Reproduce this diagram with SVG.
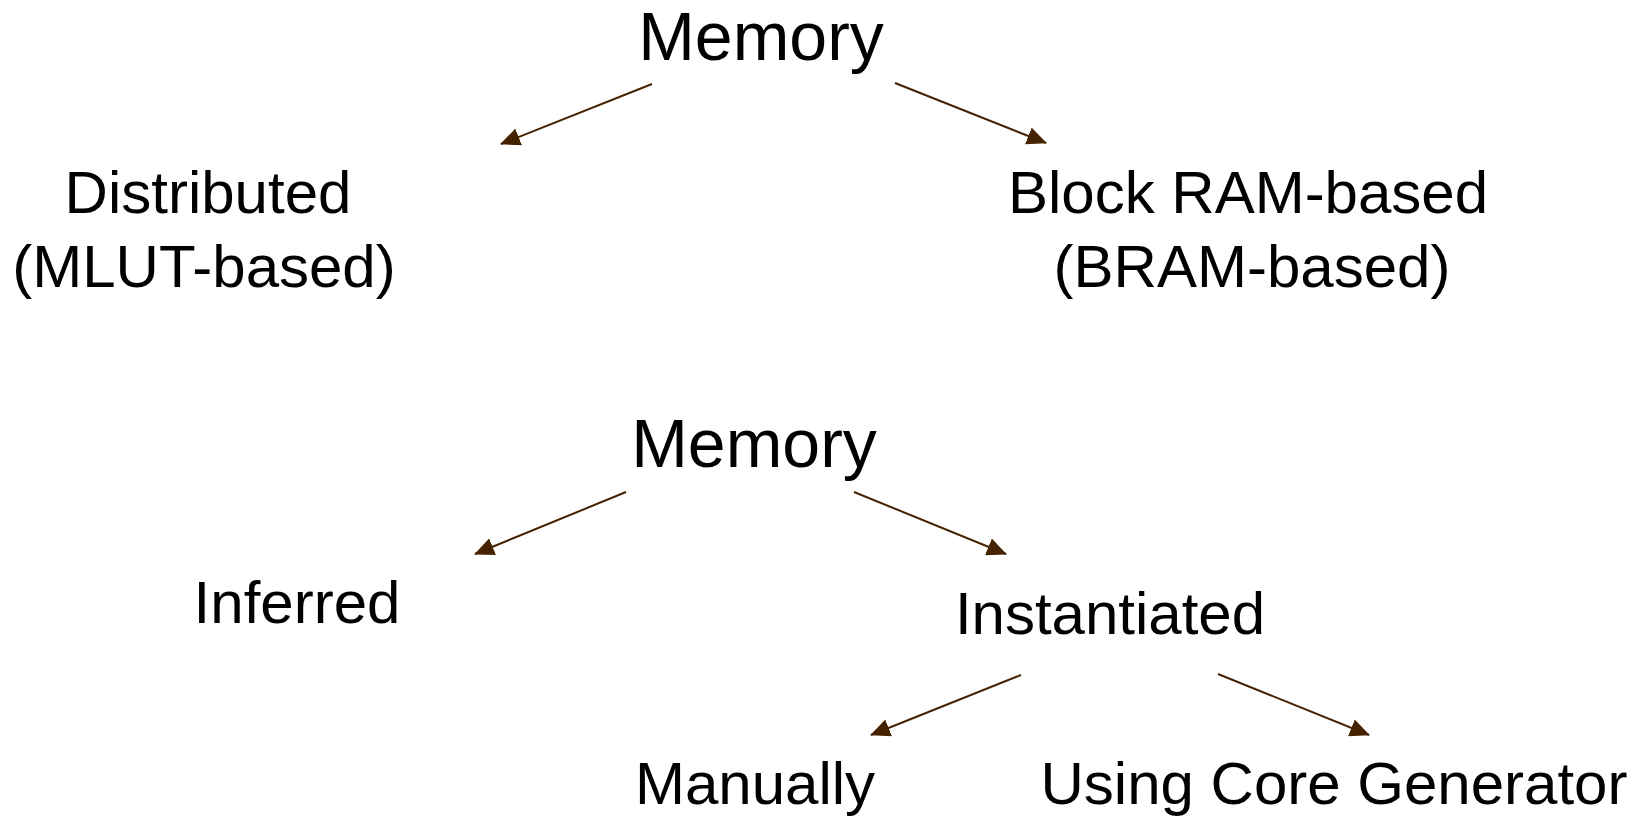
<svg xmlns="http://www.w3.org/2000/svg" width="1648" height="818" viewBox="0 0 1648 818">
  <style>
    .lbl { font-family: "Liberation Sans", Arial, sans-serif; font-size: 60px; fill: #000; text-anchor: middle; }
    .root { font-family: "Liberation Sans", Arial, sans-serif; font-size: 68px; fill: #000; text-anchor: middle; }
    .conn { stroke: #452300; stroke-width: 2; fill: none; marker-end: url(#arrow); }
  </style>
  <defs>
    <marker id="arrow" markerUnits="userSpaceOnUse" markerWidth="20" markerHeight="18" viewBox="0 0 20 18" refX="19" refY="9" orient="auto">
      <path d="M0,0 L20,9 L0,18 z" fill="#452300"/>
    </marker>
  </defs>
  <rect width="1648" height="818" fill="#fff"/>

  <g id="connectors">
    <line class="conn" x1="652" y1="84" x2="501" y2="144"/>
    <line class="conn" x1="895" y1="83" x2="1046" y2="143"/>
    <line class="conn" x1="626" y1="492" x2="475" y2="554"/>
    <line class="conn" x1="854" y1="492" x2="1006" y2="554"/>
    <line class="conn" x1="1021" y1="675" x2="871" y2="735"/>
    <line class="conn" x1="1218" y1="674" x2="1369" y2="735"/>
  </g>

  <g id="memory1"><text class="root" x="761" y="60">Memory</text></g>
  <g id="distributed">
    <text class="lbl" x="208" y="213">Distributed</text>
    <text class="lbl" x="204" y="287">(MLUT-based)</text>
  </g>
  <g id="blockram">
    <text class="lbl" x="1248" y="213">Block RAM-based</text>
    <text class="lbl" x="1252" y="287">(BRAM-based)</text>
  </g>

  <g id="memory2"><text class="root" x="754" y="467">Memory</text></g>
  <g id="inferred"><text class="lbl" x="297" y="623">Inferred</text></g>
  <g id="instantiated"><text class="lbl" x="1110" y="634">Instantiated</text></g>
  <g id="manually"><text class="lbl" x="755" y="804">Manually</text></g>
  <g id="coregen"><text class="lbl" x="1334" y="804">Using Core Generator</text></g>
</svg>
